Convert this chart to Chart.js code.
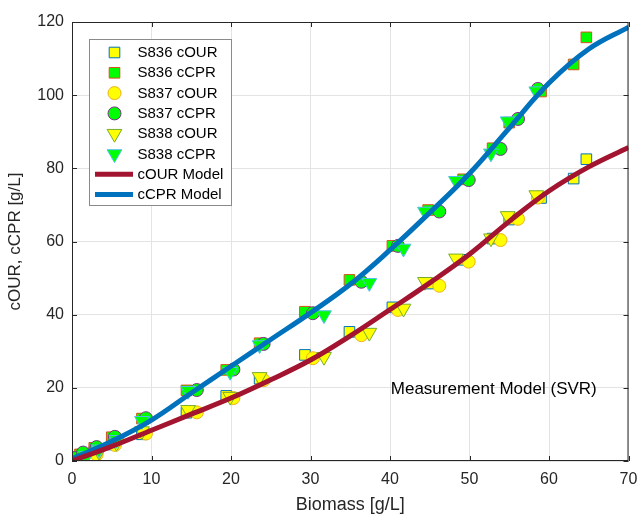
<!DOCTYPE html>
<html>
<head>
<meta charset="utf-8">
<script src="https://cdn.jsdelivr.net/npm/chart.js@4.4.0/dist/chart.umd.min.js"></script>
<style>
  html, body { margin: 0; padding: 0; background: #ffffff; }
</style>
</head>
<body>
<canvas id="svrChart" width="638" height="516"></canvas>
<script>
// measured data, one biomass array per experiment
const s836Biomass = [0.0, 1.0, 2.8, 5.0, 8.8, 14.4, 19.4, 23.6, 29.3, 34.9, 40.3, 44.8, 49.2, 52.9, 55.0, 59.0, 63.1, 64.7];
const s836OUR     = [0.2, 1.0, 2.5, 4.5, 7.3, 13.2, 17.8, 22.5, 29.0, 35.3, 42.0, 48.5, 55.0, 60.8, 66.0, 71.9, 77.2, 82.5];
const s836CPR     = [0.3, 1.8, 3.6, 6.5, 11.6, 19.3, 24.9, 32.2, 40.8, 49.5, 58.8, 68.6, 77.0, 85.5, 92.5, 101.0, 108.4, 115.8];

const s837Biomass = [0.3, 1.4, 3.1, 5.4, 9.3, 15.7, 20.3, 24.1, 30.3, 36.4, 41.0, 46.2, 49.9, 53.9, 56.1, 58.6];
const s837OUR     = [0.3, 0.5, 1.8, 4.4, 7.5, 13.3, 17.2, 22.1, 28.1, 34.4, 41.3, 47.9, 54.5, 60.4, 66.2, 72.0];
const s837CPR     = [0.8, 2.3, 3.8, 6.6, 11.7, 19.4, 25.0, 32.0, 40.4, 49.0, 58.8, 68.2, 76.8, 85.3, 93.5, 101.7];

const s838Biomass = [0.6, 1.8, 3.4, 5.6, 8.8, 14.6, 19.9, 23.6, 31.7, 37.4, 41.7, 44.4, 48.3, 52.7, 54.8, 58.4];
const s838OUR     = [0.0, 1.2, 2.6, 5.0, 8.2, 14.0, 17.6, 23.0, 28.5, 35.1, 41.7, 49.0, 55.4, 60.9, 67.0, 72.7];
const s838CPR     = [0.0, 1.4, 3.2, 5.8, 11.0, 19.2, 24.4, 31.7, 39.9, 48.7, 58.1, 68.2, 76.6, 84.1, 92.9, 101.1];

// SVR model curves
const modelBiomass = [0, 5, 10, 15, 20, 25, 30, 35, 40, 45, 50, 55, 60, 65, 70];
const ourModel     = [0.0, 4.0, 8.4, 12.8, 17.2, 22.2, 27.6, 34.2, 41.4, 48.7, 56.5, 65.5, 73.8, 80.4, 85.7];
const cprModel     = [0.6, 5.4, 11.2, 18.6, 25.9, 33.2, 40.5, 48.3, 57.7, 67.9, 78.6, 91.0, 103.3, 112.6, 118.6];

const xTitle = 'Biomass [g/L]';
const yTitle = 'cOUR, cCPR [g/L]';
const noteText = 'Measurement Model (SVR)';

const FONT = '"Liberation Sans", Arial, Helvetica, sans-serif';
const YELLOW = '#ffff00';
const GREEN = '#00ff00';

function pts(xs, ys) {
    return xs.map((x, i) => ({ x: x, y: ys[i] }));
}

function markerSet(label, xs, ys, style, fill, edge, radius, order) {
    return {
        label: label,
        data: pts(xs, ys),
        showLine: false,
        pointStyle: style,
        pointRotation: style === 'triangle' ? 180 : 0,
        pointRadius: radius,
        pointHoverRadius: radius,
        pointBackgroundColor: fill,
        pointBorderColor: edge,
        pointBorderWidth: 1,
        backgroundColor: fill,
        borderColor: edge,
        order: order
    };
}

function modelSet(label, ys, color) {
    return {
        label: label,
        data: pts(modelBiomass, ys),
        showLine: true,
        borderColor: color,
        backgroundColor: color,
        borderWidth: 5,
        pointRadius: 0,
        tension: 0.4,
        fill: false,
        order: 0
    };
}

const datasets = [
    markerSet('S836 cOUR', s836Biomass, s836OUR, 'rect', YELLOW, '#0072bd', 7.5, 6),
    markerSet('S836 cCPR', s836Biomass, s836CPR, 'rect', GREEN, '#d95319', 7.5, 5),
    markerSet('S837 cOUR', s837Biomass, s837OUR, 'circle', YELLOW, '#edb120', 6.5, 4),
    markerSet('S837 cCPR', s837Biomass, s837CPR, 'circle', GREEN, '#7e2f8e', 6.5, 3),
    markerSet('S838 cOUR', s838Biomass, s838OUR, 'triangle', YELLOW, '#77ac30', 8.5, 2),
    markerSet('S838 cCPR', s838Biomass, s838CPR, 'triangle', GREEN, '#4dbeee', 8.5, 1),
    modelSet('cOUR Model', ourModel, '#a2142f'),
    modelSet('cCPR Model', cprModel, '#0072bd')
];

// box, inward ticks, text label and legend (MATLAB look)
const matlabDecor = {
    id: 'matlabDecor',
    afterDraw(chart) {
        const { ctx, chartArea, scales } = chart;
        const { left, right, top, bottom } = chartArea;
        const x = scales.x, y = scales.y;
        ctx.save();

        ctx.strokeStyle = '#262626';
        ctx.lineWidth = 1;
        ctx.strokeRect(left + 0.5, top + 0.5, right - left - 1, bottom - top - 1);
        ctx.beginPath();
        x.ticks.forEach(t => {
            const px = Math.round(x.getPixelForValue(t.value)) + 0.5;
            ctx.moveTo(px, bottom); ctx.lineTo(px, bottom - 5);
            ctx.moveTo(px, top); ctx.lineTo(px, top + 5);
        });
        y.ticks.forEach(t => {
            const py = Math.round(y.getPixelForValue(t.value)) + 0.5;
            ctx.moveTo(left, py); ctx.lineTo(left + 5, py);
            ctx.moveTo(right, py); ctx.lineTo(right - 5, py);
        });
        ctx.stroke();

        ctx.fillStyle = '#000000';
        ctx.font = '17px ' + FONT;
        ctx.textBaseline = 'middle';
        ctx.textAlign = 'left';
        ctx.fillText(noteText, x.getPixelForValue(40.1), y.getPixelForValue(19.6));

        // legend
        const lx = 89.5, ly = 39.5, lw = 142, lh = 166;
        ctx.fillStyle = '#ffffff';
        ctx.fillRect(lx, ly, lw, lh);
        ctx.strokeStyle = '#8a8a8a';
        ctx.lineWidth = 1;
        ctx.strokeRect(lx, ly, lw, lh);
        ctx.font = '15px ' + FONT;
        chart.data.datasets.forEach((ds, i) => {
            const rowY = 52.5 + i * 20.3;
            if (ds.showLine) {
                ctx.strokeStyle = ds.borderColor;
                ctx.lineWidth = 5;
                ctx.beginPath();
                ctx.moveTo(95, rowY);
                ctx.lineTo(133, rowY);
                ctx.stroke();
            } else {
                ctx.fillStyle = ds.pointBackgroundColor;
                ctx.strokeStyle = ds.pointBorderColor;
                ctx.lineWidth = 1;
                Chart.helpers.drawPoint(ctx, {
                    pointStyle: ds.pointStyle,
                    rotation: ds.pointRotation,
                    radius: ds.pointRadius,
                    borderWidth: 1
                }, 114.5, rowY);
            }
            ctx.fillStyle = '#000000';
            ctx.fillText(ds.label, 137.5, rowY + 0.5);
        });
        ctx.restore();
    }
};

const tickFont = { family: FONT, size: 16 };

new Chart(document.getElementById('svrChart'), {
    type: 'scatter',
    data: { datasets: datasets },
    options: {
        responsive: false,
        animation: false,
        layout: { padding: { top: 22, right: 9, left: 0, bottom: 0 } },
        plugins: {
            legend: { display: false },
            tooltip: { enabled: false }
        },
        scales: {
            x: {
                type: 'linear',
                min: 0,
                max: 70,
                ticks: { stepSize: 10, color: '#262626', font: tickFont, padding: 9, maxRotation: 0 },
                grid: { color: '#e3e3e3', drawTicks: false },
                border: { display: false },
                title: { display: true, text: xTitle, color: '#262626', font: { family: FONT, size: 18 }, padding: { top: 0, bottom: 0 } },
                afterFit: s => { s.height = 55; s.paddingLeft = 0; s.paddingRight = 0; }
            },
            y: {
                type: 'linear',
                min: 0,
                max: 120,
                ticks: { stepSize: 20, color: '#262626', font: tickFont, padding: 8 },
                grid: { color: '#e3e3e3', drawTicks: false },
                border: { display: false },
                title: { display: true, text: yTitle, color: '#262626', font: { family: FONT, size: 17 }, padding: { top: 5, bottom: 0 } },
                afterFit: s => { s.width = 72; s.paddingTop = 0; s.paddingBottom = 0; }
            }
        }
    },
    plugins: [matlabDecor]
});
</script>
</body>
</html>
